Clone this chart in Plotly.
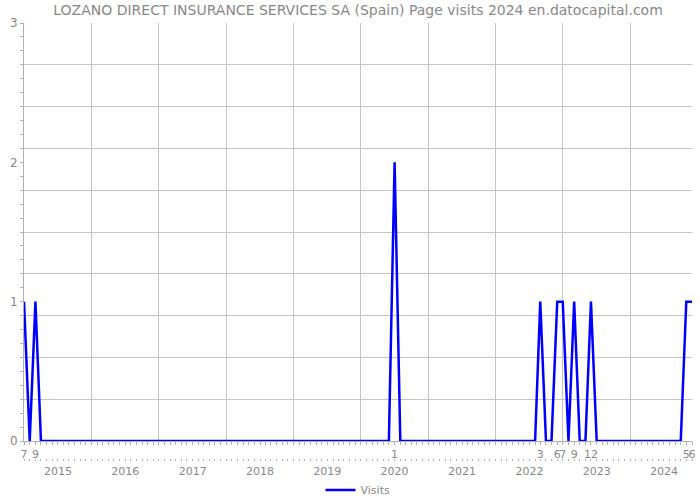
import plotly.graph_objects as go
import pandas as pd

# Monthly page visits, July 2014 .. June 2024
start_month = "2014-07-01"
end_month = "2024-06-01"
visit_months = ["2014-07", "2014-09", "2020-01", "2022-03", "2022-06", "2022-07",
                "2022-09", "2022-12", "2024-05", "2024-06"]
visit_counts = [1, 1, 2, 1, 1, 1, 1, 1, 1, 1]
year_labels = [str(y) for y in range(2015, 2025)]
series_name = "Visits"
title_text = "LOZANO DIRECT INSURANCE SERVICES SA (Spain) Page visits 2024 en.datocapital.com"

months = pd.date_range(start_month, end_month, freq="MS")
counts = pd.Series(0, index=months)
for m, c in zip(visit_months, visit_counts):
    counts[pd.Timestamp(m + "-01")] = c

label_dates = [pd.Timestamp(m + "-01") for m in visit_months]
label_text = [str(d.month) for d in label_dates]
year_dates = [pd.Timestamp(f"{y}-01-01") for y in year_labels]
grid_dates = [pd.Timestamp(f"{y}-07-01") for y in range(2015, 2024)]

FONT = "DejaVu Sans"
GREY = "#888888"
GRID = "#c4c4c4"
AXIS = "#b0b0b0"
xr = [months[0], months[-1]]

fig = go.Figure()
fig.add_trace(go.Scatter(x=months, y=counts.values, mode="lines", name=series_name,
                         line=dict(color="#0000ff", width=2.5), xaxis="x", yaxis="y"))
# helper traces so overlay axes get drawn
fig.add_trace(go.Scatter(x=months, y=[None] * len(months), xaxis="x2", yaxis="y",
                         showlegend=False, hoverinfo="skip"))
fig.add_trace(go.Scatter(x=months, y=[None] * len(months), xaxis="x3", yaxis="y2",
                         showlegend=False, hoverinfo="skip"))

# plot area: top 23, bottom of margin 470
H_AREA = 500 - 23 - 30
dom_bottom = (470 - 441) / H_AREA
fig.update_layout(
    width=700, height=500,
    margin=dict(l=24, r=8, t=23, b=30, autoexpand=False),
    paper_bgcolor="white", plot_bgcolor="white",
    font=dict(family=FONT, size=11, color=GREY),
    title=dict(text=title_text, x=0.5, xref="paper", xanchor="center",
               y=0.98, yref="container", yanchor="middle",
               font=dict(family=FONT, size=14, color=GREY)),
    showlegend=True,
    legend=dict(orientation="h", x=0.5, xanchor="center",
                y=-(490 - 470) / H_AREA, yanchor="middle",
                bgcolor="rgba(0,0,0,0)",
                font=dict(size=11, color=GREY)),
    xaxis=dict(type="date", range=xr, tickvals=label_dates, ticktext=label_text,
               tickangle=0, automargin=False,
               showgrid=False, zeroline=False, showline=True, linecolor=AXIS, linewidth=1,
               ticks="outside", ticklen=3, tickcolor=AXIS,
               minor=dict(ticks="outside", ticklen=3, tickcolor=AXIS, dtick="M1",
                          tick0=start_month, showgrid=False),
               anchor="y", tickfont=dict(size=11, color=GREY)),
    xaxis2=dict(type="date", range=xr, overlaying="x", anchor="free",
                position=(470 - 458) / H_AREA, automargin=False, tickangle=0,
                tickvals=year_dates, ticktext=year_labels, showgrid=False, zeroline=False,
                showline=False, ticks="outside", ticklen=3, tickcolor="rgba(0,0,0,0)",
                tickfont=dict(size=11, color=GREY),
                minor=dict(ticks="outside", ticklen=2, tickcolor=AXIS, dtick="M1",
                           tick0=start_month, showgrid=False)),
    xaxis3=dict(type="date", range=xr, overlaying="x", anchor="y2", tickvals=grid_dates,
                showgrid=True, gridcolor=GRID, gridwidth=1, showticklabels=False,
                automargin=False, ticks="", zeroline=False, showline=False),
    yaxis=dict(range=[0, 3], domain=[dom_bottom, 1], tickvals=[0, 1, 2, 3],
               automargin=False,
               showgrid=False, zeroline=False, showline=True, linecolor=AXIS,
               ticks="outside", ticklen=3, tickcolor=AXIS,
               minor=dict(ticks="outside", ticklen=3, tickcolor=AXIS, dtick=0.1,
                          showgrid=False),
               tickfont=dict(size=12, color=GREY)),
    yaxis2=dict(range=[0, 3], domain=[dom_bottom, 1], overlaying="y", anchor="x3",
                automargin=False,
                dtick=0.3, tick0=0, showgrid=True, gridcolor=GRID, showticklabels=False,
                ticks="", zeroline=False, showline=False),
)
fig.write_html("out.html")
